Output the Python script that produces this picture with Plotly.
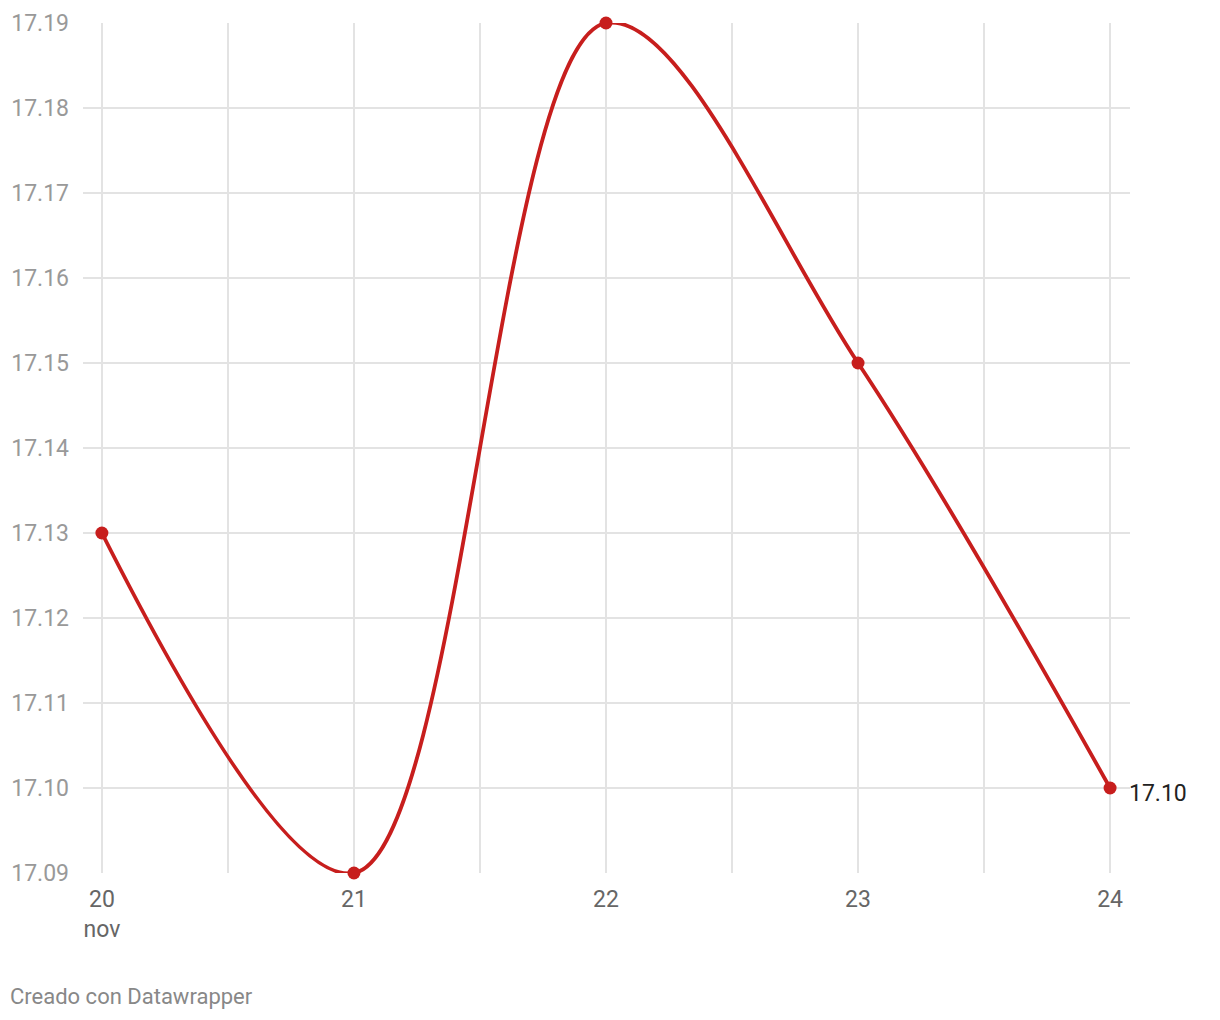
import plotly.graph_objects as go

days = [20, 21, 22, 23, 24]
values = [17.13, 17.09, 17.19, 17.15, 17.10]
x_tickvals = [20, 20.5, 21, 21.5, 22, 22.5, 23, 23.5, 24]
x_ticktext = ["20<br>nov", "", "21", "", "22", "", "23", "", "24"]
y_tickvals = [17.09, 17.10, 17.11, 17.12, 17.13, 17.14, 17.15, 17.16, 17.17, 17.18, 17.19]
y_ticktext = ["%.2f" % v for v in y_tickvals]
last_label = "17.10"
footer = "Creado con Datawrapper"

RED = "#c71e1d"

fig = go.Figure()
fig.add_trace(go.Scatter(
    x=days, y=values, mode="lines+markers",
    line=dict(color=RED, width=3.8, shape="spline", smoothing=1),
    marker=dict(color=RED, size=13),
    cliponaxis=False, hoverinfo="skip",
))

fig.add_annotation(x=days[-1], y=values[-1], text=last_label, showarrow=False,
                   xanchor="left", yanchor="middle", xshift=17, yshift=-5,
                   font=dict(family="Roboto", size=23, color="#222"))

fig.add_annotation(x=0, y=0, xref="paper", yref="paper", xanchor="left", yanchor="middle",
                   xshift=-75, yshift=-123, text=footer, showarrow=False,
                   font=dict(family="Roboto", size=22, color="#888"))

fig.update_layout(
    width=1204, height=1004,
    margin=dict(l=75, r=82, t=15, b=139),
    paper_bgcolor="white", plot_bgcolor="white",
    showlegend=False,
    font=dict(family="Roboto"),
    xaxis=dict(range=[19.925, 24.079], tickvals=x_tickvals, ticktext=x_ticktext,
               showgrid=True, gridcolor="#e3e3e3", gridwidth=2, zeroline=False,
               showline=False, ticks="", ticklabelstandoff=10, automargin=False,
               tickfont=dict(size=23, color="#666"), fixedrange=True),
    yaxis=dict(range=[17.09, 17.19], tickvals=y_tickvals, ticktext=y_ticktext,
               showgrid=True, gridcolor="#e3e3e3", gridwidth=2, zeroline=False,
               showline=False, ticks="", ticklabelstandoff=13, automargin=False,
               tickfont=dict(size=23, color="#999"), fixedrange=True),
)

fig.write_html("out.html")
